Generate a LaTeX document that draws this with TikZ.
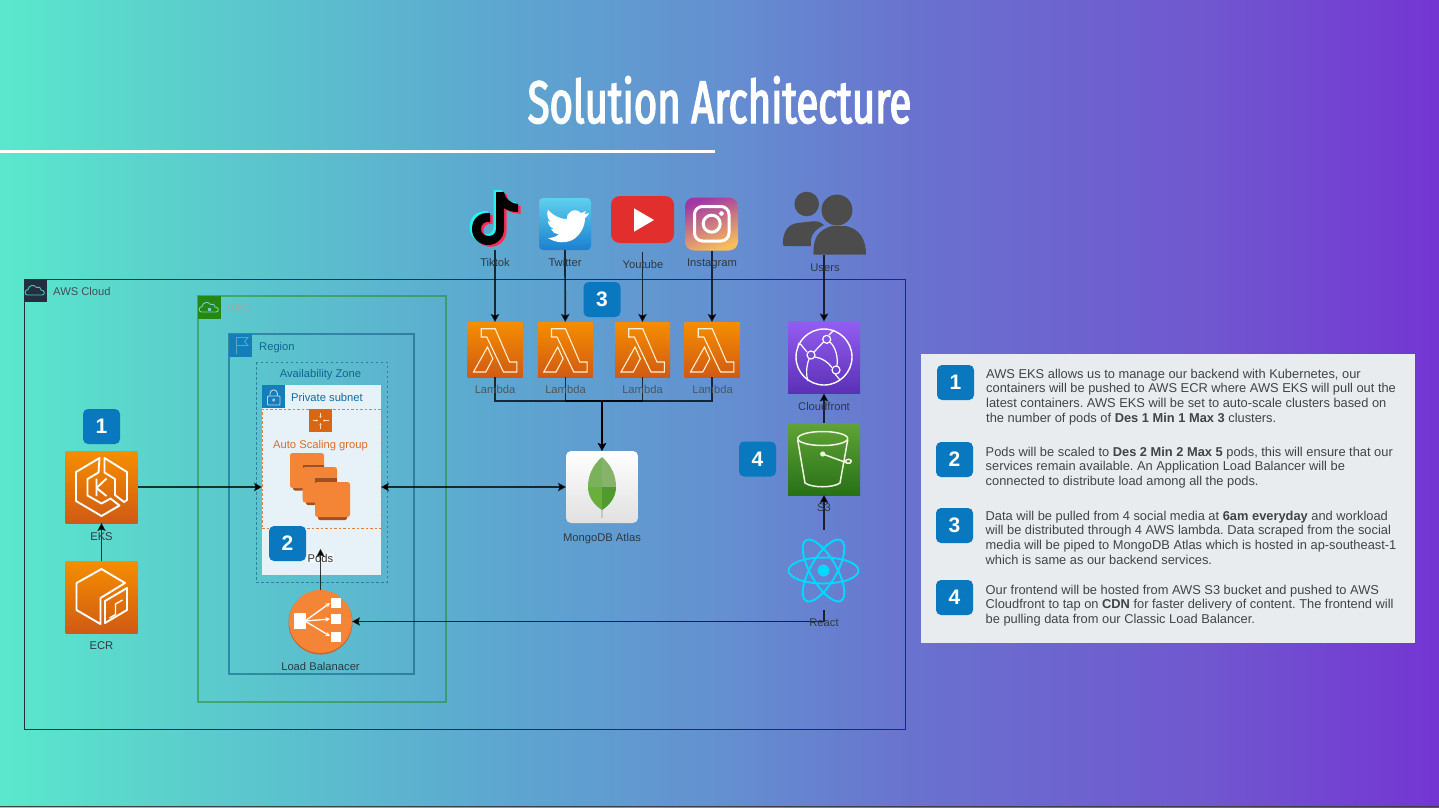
\documentclass[tikz,border=0pt]{standalone}
\usepackage{fontspec}
\setmainfont{Liberation Sans}
\newfontfamily\titlefont[FakeStretch=0.668,FakeBold=2.4]{Fira Sans}
\usetikzlibrary{arrows.meta,shapes.geometric,calc}
\definecolor{awsblue}{HTML}{147EBA}
\definecolor{awsgreen}{HTML}{248814}
\definecolor{awsdark}{HTML}{232F3E}
\definecolor{badgeblue}{HTML}{0A78BE}
\definecolor{lblcol}{HTML}{2B3A44}
\definecolor{ashade}{HTML}{F58536}
\definecolor{ashadow}{HTML}{9D5025}
\definecolor{paneltext}{HTML}{404447}
\definecolor{orangetop}{HTML}{F58E00}
\definecolor{orangebot}{HTML}{D05A14}
\definecolor{lamline}{HTML}{FFF0D2}
\definecolor{cloudA}{HTML}{55BEBE}
\definecolor{cloudB}{HTML}{78CDBE}
\definecolor{flagc}{HTML}{50AAC8}
\definecolor{subnetfill}{HTML}{E7F1F8}
\definecolor{asgline}{HTML}{D88246}
\definecolor{asgicon}{HTML}{D86613}
\definecolor{asgtext}{HTML}{D86E2D}
\definecolor{lbshadow}{HTML}{C36432}
\definecolor{cftop}{HTML}{945DF2}
\definecolor{cfbot}{HTML}{5A30B5}
\definecolor{sthreetop}{HTML}{60A337}
\definecolor{sthreebot}{HTML}{277116}
\definecolor{bucket}{HTML}{F0F5E1}
\definecolor{leafA}{HTML}{7AB25C}
\definecolor{leafB}{HTML}{86B26C}
\definecolor{leafC}{HTML}{6AAE3C}
\definecolor{leafD}{HTML}{509B2E}
\definecolor{reactc}{HTML}{00D8FF}
\definecolor{ttcyan}{HTML}{25F4EE}
\definecolor{ttred}{HTML}{FE2C55}
\definecolor{twtop}{HTML}{5FD0EE}
\definecolor{twbot}{HTML}{1B80D0}
\definecolor{ytred}{HTML}{E22E2C}
\definecolor{igA}{HTML}{A037A5}
\definecolor{igB}{HTML}{D7486E}
\definecolor{igC}{HTML}{F8BE5A}
\definecolor{usergap}{HTML}{6482CF}
\definecolor{panelbg}{HTML}{E8ECEE}
\definecolor{bgA}{HTML}{5AE8CD}\definecolor{bgB}{HTML}{5BCFCC}\definecolor{bgC}{HTML}{5CA9D0}
\definecolor{bgD}{HTML}{6490D0}\definecolor{bgE}{HTML}{6A70CF}\definecolor{bgF}{HTML}{7058CF}\definecolor{bgG}{HTML}{7435D3}
\pgfdeclarehorizontalshading{pagebg}{100bp}{color(0bp)=(bgA);color(25bp)=(bgA);color(31.25bp)=(bgB);color(41.7bp)=(bgC);color(50bp)=(bgD);color(57.3bp)=(bgE);color(66.7bp)=(bgF);color(75bp)=(bgG);color(100bp)=(bgG)}
\tikzset{
  x=1pt,y=-1pt,
  tipstyle/.tip={Stealth[length=8pt,width=8.5pt,inset=1.5pt]},
  lbl/.style={font=\fontsize{11.2}{13}\selectfont,text=lblcol,inner sep=0pt,text height=8pt,text depth=0pt},
  conn/.style={-tipstyle,draw=black,draw opacity=.75,fill opacity=1,line width=1.3pt},
  connplain/.style={draw=black,draw opacity=.75,line width=1.3pt},
  badge/.style={rounded corners=5pt,fill=badgeblue,minimum width=37pt,minimum height=35pt,inner sep=0pt,text=white,font=\fontsize{21}{21}\selectfont\bfseries},
  orangebox/.style={inner sep=0pt,outer sep=0pt,top color=orangetop,bottom color=orangebot},
  anchorbox/.style={inner sep=0pt,outer sep=0pt},
  glyph/.style={draw=white,line width=1.9pt,line join=round,fill=none},
  paratext/.style={anchor=north west,align=left,inner sep=0pt,text=paneltext,font=\fontsize{12.85}{14.7}\selectfont},
  lambdaglyph/.pic={
    \draw[draw=lamline,line width=1.1pt,line join=miter]
      (-13.8,-20.8)--(0.2,-20.8)--(14.5,12.5)--(21.8,12.5)--(21.8,22.5)--(8.5,22.5)--(-8.2,-12.5)--(-13.8,-12.5)--cycle
      (-21.5,22.5)--(-7.5,-2.5)--(-2.2,9.2)--(-9.2,22.5)--cycle;},
  tagcloud/.pic={
    \draw[line width=.9pt,pic actions] (-8,4) .. controls (-11,4) and (-11.5,-1) .. (-7.5,-1.5)
      .. controls (-7,-6) and (-1,-7) .. (1,-3.5) .. controls (3,-5) and (6,-3.5) .. (5.5,-1)
      .. controls (9.5,-1) and (10,4) .. (6.5,4) -- cycle;},
  instance/.style={fill=ashade,rounded corners=2.5pt},
}
\begin{document}
\begin{tikzpicture}
\frenchspacing
\useasboundingbox (0,0) rectangle (1439,807);
\shade[shading=pagebg] (0,0) rectangle (1439,807);
\fill[black!75] (0,806) rectangle (1439,807);

% title
\node[anchor=base,inner sep=0pt,text=white,font=\fontsize{60}{60}\selectfont\titlefont] (title) at (719.5,123) {Solution Architecture};
\fill[white] (0,150) rectangle (715,153);

% group containers
\draw[awsdark,line width=1pt] (24,279) rectangle (905,729);
\fill[awsdark] (24,279) rectangle (47,302);
\pic[draw=cloudA] at (35.5,291) {tagcloud};
\node[lbl,anchor=west,text=awsdark!85!white] (awscloud) at (53,291) {AWS Cloud};

\draw[awsgreen,draw opacity=.5,line width=1.3pt] (198,296) rectangle (446,702);
\fill[awsgreen] (198,296) rectangle (221,319);
\pic[draw=cloudB] at (209.5,308) {tagcloud};
\fill[cloudB] (208,308) rectangle (211,311);
\node[lbl,anchor=west,text=black!35] (vpclabel) at (227,308) {VPC};

\draw[awsblue!70!black,draw opacity=.55,line width=1.3pt] (229,334) rectangle (414,674);
\fill[awsblue] (229,334) rectangle (252,357);
\draw[flagc,line width=.9pt] (236.5,354)--(236.5,337.5)--(248,337.5)--(244.5,341.5)--(248,345.5)--(236.5,345.5);
\node[lbl,anchor=west,text=awsblue!80!black] (regionlabel) at (259,346) {Region};

\draw[awsblue!70!black,draw opacity=.6,dashed,dash pattern=on 2.5pt off 2.5pt,line width=1pt] (256,362) rectangle (387,582);
\node[lbl,text=awsblue!80!black] (azlabel) at (320.5,373.5) {Availability Zone};

% subnet
\fill[subnetfill] (262,385) rectangle (381,575);
\fill[awsblue] (262,385) rectangle (285,408);
\draw[white!70!awsblue,line width=.9pt,rounded corners=.8pt] (267.5,396) rectangle (280,405);
\draw[white!70!awsblue,line width=.9pt] (270,396) -- (270,393.5) arc[start angle=180,end angle=360,radius=3.7] -- (277.4,396);
\draw[white!70!awsblue,line width=.7pt] (273.7,400) circle[radius=1.2];
\node[lbl,anchor=west,text=awsblue!85!black] (subnetlabel) at (291,397) {Private subnet};

% auto scaling group
\node[anchor=north west,inner sep=0pt,outer sep=0pt,minimum width=119pt,minimum height=119pt,draw=asgline,dashed,dash pattern=on 2.5pt off 2pt,line width=.9pt] (asg) at (262,409) {};
\fill[asgicon] (309,409) rectangle (332,432);
\foreach \dx/\dy in {0/-8,0/8,-8/0,8/0}{
  \draw[white!75!orange,line width=.6pt,-{Stealth[length=2.2pt,width=2.2pt]}] (320.5+\dx,420.5+\dy) -- (320.5+.3*\dx,420.5+.3*\dy);}
\node[lbl,text=asgtext] (asglabel) at (320.5,444) {Auto Scaling group};
% instances
\fill[ashadow,rounded corners=2pt] (293,470) rectangle (304,490.5);
\fill[instance] (290,453) rectangle (324,488);
\fill[ashadow,rounded corners=2pt] (306,484) rectangle (316,505);
\fill[ashadow] (302.7,464.5) rectangle (324,469);
\fill[instance] (302.7,467) rectangle (337,502.5);
\fill[ashadow] (315,478) rectangle (337,483);
\fill[ashadow,rounded corners=2pt] (318,500) rectangle (347,520);
\fill[instance] (315,482) rectangle (350,517);

% EKS
\node[orangebox,minimum size=72pt] (eks) at (101.5,487) {};
\begin{scope}[shift={(101.5,487)}]
\draw[glyph] (-2,-29)--(-25.5,-15)--(-25.5,14)--(0,29)--(18,18.5)--(9,11.5)--(0,16.5)--(-14,8.5)--(-14,-8)--(-3,-14.5)--cycle;
\draw[glyph] (3,-29)--(25.5,-15)--(25.5,13)--(22.5,15)--(13.5,8)--(13.5,-8)--(3,-14.5)--cycle;
\draw[glyph] (-5,-8.5)--(-5,9) (5,-8.5)--(-5,1)--(5,9);
\end{scope}
% ECR
\node[orangebox,minimum size=72pt] (ecr) at (101.5,597) {};
\begin{scope}[shift={(101.5,597)}]
\draw[glyph] (-1,27)--(-25,13)--(-25,-14)--(0,-28)--(23.5,-14)--(-1,1)--cycle;
\draw[glyph] (3.5,26)--(25.5,13)--(25.5,-9)--(3.5,4)--cycle;
\draw[glyph,line width=1.4pt] (8,21)--(14,17.5)--(14,7)--(21,3);
\end{scope}

% load balancer
\fill[lbshadow] (320.5,622.5) circle[radius=32];
\node[circle,fill=ashade,minimum size=63pt,inner sep=0pt,outer sep=0pt] (lb) at (320.5,621.5) {};
\begin{scope}
\fill[white] (294,612.7) rectangle (306,629);
\fill[white] (330.7,597.7) rectangle (340.7,607.7);
\fill[white] (330.7,614) rectangle (340.7,624);
\fill[white] (330.7,631.7) rectangle (340.7,641.7);
\foreach \ty in {603,619,636}{
  \draw[white,line width=1.3pt,-{Stealth[length=4.5pt,width=4.5pt]}] (305,621) -- (330,\ty);}
\end{scope}

% lambdas
\foreach \nm/\cx in {lam1/495,lam2/565.25,lam3/642.5,lam4/712}{
  \node[orangebox,minimum size=55pt] (\nm) at (\cx,349.5) {};
  \pic at (\cx,349.5) {lambdaglyph};
}

% cloudfront
\node[inner sep=0pt,outer sep=0pt,minimum size=72pt,top color=cftop,bottom color=cfbot] (cf) at (824,357.5) {};
\begin{scope}
\draw[glyph,line width=1.4pt] (824,357) circle[radius=28];
\draw[glyph,line width=1.2pt] (826.7,339.3) circle[radius=4] (811,355) circle[radius=4] (836,370) circle[radius=4];
\draw[white,line width=1.2pt] (823.5,342) -- (814,352) (815,357) .. controls (822,358) and (828,362) .. (832,367.5) (829,335) -- (834,330) (830,342) .. controls (836,348) and (838,357) .. (837,366) (807,352) .. controls (801,345) and (799,341) .. (798,345) (809,359) .. controls (806,367) and (806,376) .. (808,381) (835,374) -- (840,380);
\end{scope}

% S3
\node[inner sep=0pt,outer sep=0pt,minimum size=72pt,top color=sthreetop,bottom color=sthreebot] (s3) at (824,459) {};
\begin{scope}
\draw[draw=bucket,line width=1.5pt,line join=round] (822.7,438.5) ellipse[x radius=25,y radius=7];
\draw[draw=bucket,line width=1.5pt,line join=round] (797.7,440) -- (805,483) .. controls (812,488) and (833,488) .. (840,483) -- (847.7,440);
\fill[bucket] (822.7,454) circle[radius=2.6];
\draw[draw=bucket,line width=1.5pt] (822.7,454) -- (846,462.5) (846,460) .. controls (850,458) and (853,461) .. (850,463) .. controls (848,464.5) and (845,463) .. (846,460);
\end{scope}

% MongoDB
\node[rounded corners=5pt,inner sep=0pt,outer sep=0pt,minimum size=72pt,top color=white,bottom color=black!12] (mongo) at (602,487) {};
\fill[black!22] (601,505) rectangle (603,518);
\begin{scope}
\clip (602,457) .. controls (592,466) and (588,476) .. (588,487) .. controls (588,497) and (594,505) .. (602,510) .. controls (610,505) and (616,497) .. (616,487) .. controls (616,476) and (612,466) .. (602,457) -- cycle;
\fill[leafA] (585,455) rectangle (602,487);
\fill[leafB] (602,455) rectangle (618,487);
\fill[leafC] (585,487) rectangle (602,512);
\fill[leafD] (602,487) rectangle (618,512);
\end{scope}

% React
\node[anchorbox,minimum width=72pt,minimum height=80pt] (react) at (824,570) {};
\foreach \ang in {0,60,120}{
  \draw[draw=reactc,line width=2pt,rotate around={\ang:(823.5,570.5)}] (823.5,570.5) ellipse[x radius=35,y radius=13];}
\fill[reactc] (823.5,570.5) circle[radius=6];

% TikTok
\node[anchorbox,minimum width=50pt,minimum height=60pt] (tiktok) at (495,220) {};
\def\tiktokpath{(496,192) -- (496,229) .. controls (496,233) and (493,236) .. (489,236) .. controls (484,236) and (481,233) .. (481,229) .. controls (481,224) and (485,221) .. (490,222) -- (490,213) .. controls (479,212) and (472,219) .. (472,229) .. controls (472,239) and (480,245) .. (488,245) .. controls (497,245) and (504,238) .. (504,229) -- (504,208) .. controls (508,211) and (513,212) .. (518,212) -- (518,204) .. controls (510,203) and (505,199) .. (504,192) -- cycle}
\fill[ttcyan,xshift=-2.5pt,yshift=1.8pt] \tiktokpath;
\fill[ttred,xshift=2.5pt,yshift=-1.8pt] \tiktokpath;
\fill[black] \tiktokpath;

% Twitter
\node[rounded corners=4pt,inner sep=0pt,outer sep=0pt,minimum size=52pt,top color=twtop,bottom color=twbot] (twitter) at (565,224) {};
\fill[white] (586,211) .. controls (584,212) and (582,213) .. (581,213) .. controls (575,207) and (566,212) .. (567,219) .. controls (559,219) and (553,215) .. (548,210) .. controls (546,214) and (548,220) .. (551,222) .. controls (550,222) and (549,222) .. (548,221) .. controls (548,225) and (551,228) .. (554,229) -- (551,229) .. controls (552,232) and (555,234) .. (559,234) .. controls (556,237) and (552,238) .. (548,238) .. controls (556,243) and (566,244) .. (574,239) .. controls (581,234) and (585,226) .. (585,218) .. controls (587,217) and (588,215) .. (589,213) .. controls (587,214) and (585,214) .. (584,214) .. controls (585,213) and (586,212) .. (586,211) -- cycle;

% YouTube
\node[anchorbox,minimum width=63pt,minimum height=56pt] (youtube) at (642.5,224) {};
\fill[ytred,rounded corners=9pt] (611,196) rectangle (674,243);
\fill[white] (634,208.3) -- (654,220) -- (634,231.7) -- cycle;

% Instagram
\node[rounded corners=9pt,inner sep=0pt,outer sep=0pt,minimum size=53pt,top color=igA,middle color=igB,bottom color=igC,shading angle=20] (instagram) at (711.5,224) {};
\draw[white,line width=3pt,rounded corners=8pt] (694.5,206.5) rectangle (729,241);
\draw[white,line width=3pt] (711.7,223.7) circle[radius=8.5];
\fill[white] (721.5,213.5) circle[radius=2.3];

% Users
\node[anchorbox,minimum width=84pt,minimum height=62pt] (users) at (824,224) {};
\fill[black!70] (806.7,204) circle[radius=12.3];
\fill[black!70,rounded corners=2pt] (782.7,246) .. controls (783,234) and (786,226) .. (797,223) -- (816,221) .. controls (826,224) and (830,232) .. (830,246) -- cycle;
\fill[usergap] (837,210) circle[radius=17.5];
\fill[usergap] (811,256) -- (811,240) .. controls (812,232) and (820,226) .. (830,223) -- (852,223) -- (860,256) -- cycle;
\fill[black!70] (837,210) circle[radius=15.5];
\fill[black!70] (813.5,254.5) .. controls (813,238) and (818,230) .. (832,226) -- (846,226) .. controls (860,229) and (866,240) .. (866,254.5) -- cycle;

% pods label
\node[lbl,fill=subnetfill!50!white,inner sep=1pt,text=black!80] (pods) at (320.5,558) {Pods};

% connectors
\coordinate (bus) at (602,401);
\draw[connplain] (lam1.south) |- (bus);
\draw[connplain] (lam2.south) |- (bus);
\draw[connplain] (lam3.south) |- (bus);
\draw[connplain] (lam4.south) |- (bus);
\draw[conn,draw opacity=1,line width=2pt] (bus) -- (mongo.north);
\draw[conn] (tiktok.south) -- (lam1.north);
\draw[conn,line width=1.7pt] (twitter.south) -- (lam2.north);
\draw[conn] (youtube.south) -- (lam3.north);
\draw[conn] (instagram.south -| lam4.north) -- (lam4.north);
\draw[conn] (users.south) -- (cf.north);
\draw[conn] (s3.north) -- (cf.south);
\draw[conn] (react.north) -- (s3.south);
\draw[conn] (ecr.north) -- (eks.south);
\draw[conn] (eks.east) -- (eks.east -| asg.west);
\draw[conn,tipstyle-tipstyle] (asg.east |- mongo.west) -- (mongo.west);
\draw[conn] (lb.north) -- ([yshift=4pt]pods.north);
\draw[conn] (react.south) |- (lb.east);

% labels
\node[lbl] (tiktoklabel) at (495,262) {Tiktok};
\node[lbl] (twitterlabel) at (565,262) {Twitter};
\node[lbl] (youtubelabel) at (643,264) {Youtube};
\node[lbl] (instagramlabel) at (712,262) {Instagram};
\node[lbl] (userslabel) at (825,267) {Users};
\node[lbl,text=lblcol!85!white] (l1) at (495,389) {Lambda};
\node[lbl,text=lblcol!85!white] (l2) at (565.5,389) {Lambda};
\node[lbl,text=lblcol!85!white] (l3) at (642.5,389) {Lambda};
\node[lbl,text=lblcol!85!white] (l4) at (712.5,389) {Lambda};
\node[lbl] (cflabel) at (824,406) {Cloudfront};
\node[lbl] (s3label) at (824,507) {S3};
\node[lbl] (reactlabel) at (824,622) {React};
\node[lbl] (ekslabel) at (101.5,536) {EKS};
\node[lbl] (ecrlabel) at (101.5,645) {ECR};
\node[lbl] (mongolabel) at (602,537) {MongoDB Atlas};
\node[lbl] (lblabel) at (320.5,666) {Load Balanacer};

% badges on diagram
\node[badge] (b1) at (101.5,426.5) {1};
\node[badge] (b2) at (287.5,543.5) {2};
\node[badge] (b3) at (602,299.5) {3};
\node[badge] (b4) at (757.5,459) {4};

% panel
\fill[panelbg] (921,354) rectangle (1415,643);
\node[badge] (p1) at (955.5,382.5) {1};
\node[badge] (p2) at (954.5,459.5) {2};
\node[badge] (p3) at (954.5,525.5) {3};
\node[badge] (p4) at (954.5,597.5) {4};
\node[paratext] (t1) at (986,368.5) {AWS EKS allows us to manage our backend with Kubernetes, our\\containers will be pushed to AWS ECR where AWS EKS will pull out the\\latest containers. AWS EKS will be set to auto-scale clusters based on\\the number of pods of \textbf{Des 1 Min 1 Max 3} clusters.};
\node[paratext] (t2) at (985.5,446.5) {Pods will be scaled to \textbf{Des 2 Min 2 Max 5} pods, this will ensure that our\\services remain available. An Application Load Balancer will be\\connected to distribute load among all the pods.};
\node[paratext] (t3) at (985.5,510.5) {Data will be pulled from 4 social media at \textbf{6am everyday} and workload\\will be distributed through 4 AWS lambda. Data scraped from the social\\media will be piped to MongoDB Atlas which is hosted in ap-southeast-1\\which is same as our backend services.};
\node[paratext] (t4) at (985.5,584.5) {Our frontend will be hosted from AWS S3 bucket and pushed to AWS\\Cloudfront to tap on \textbf{CDN} for faster delivery of content. The frontend will\\be pulling data from our Classic Load Balancer.};
\end{tikzpicture}
\end{document}
